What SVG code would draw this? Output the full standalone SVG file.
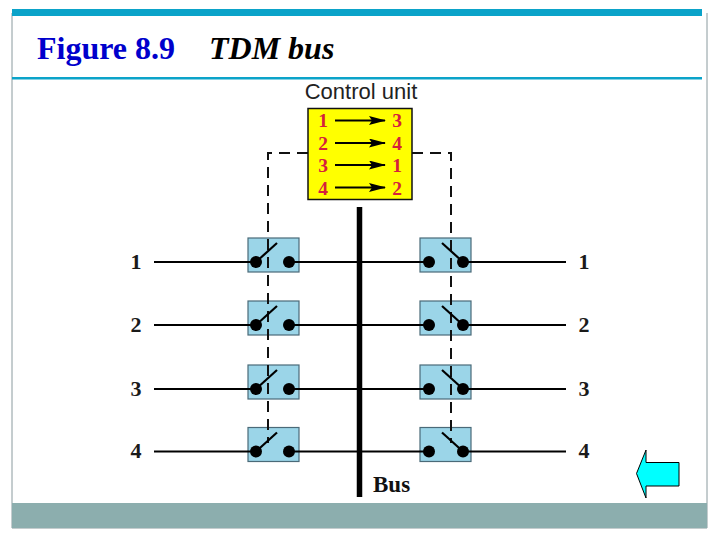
<svg xmlns="http://www.w3.org/2000/svg" width="720" height="540" viewBox="0 0 720 540">
<style>
.t{font-family:"Liberation Serif",serif;font-weight:bold}
.n{font-size:22px;fill:#1a1a1a;text-anchor:middle}
.r{font-size:19.500px;fill:#d4213d;text-anchor:middle}
.w{stroke:#000;stroke-width:2.2;fill:none}
.d{stroke:#111;stroke-width:2;stroke-dasharray:11 7;fill:none}
.s{fill:#9bd5e8;stroke:#4a6a78;stroke-width:1.2}
.a{stroke:#000;stroke-width:1.8;marker-end:url(#ah)}
</style>
<defs>
<marker id="ah" markerWidth="17" markerHeight="9" refX="16" refY="4.5" markerUnits="userSpaceOnUse" orient="auto"><path d="M0 0L17 4.5L0 9L3 4.5Z" fill="#000"/></marker>
<g id="swL"><circle cx="256" cy="0" r="6"/><circle cx="289" cy="0" r="6"/><path d="M256 0L277 -19" stroke="#000" stroke-width="2.2"/></g>
<g id="swR"><circle cx="429" cy="0" r="6"/><circle cx="463" cy="0" r="6"/><path d="M442 -19L463 0" stroke="#000" stroke-width="2.2"/></g>
<rect id="boxL" class="s" x="248" y="-24" width="51" height="34"/>
<rect id="boxR" class="s" x="420" y="-24" width="51" height="34"/>
</defs>
<g id="frame">
<path d="M12 13V528H707V13" fill="none" stroke="#8a9a9e" stroke-width="1"/>
<rect x="12" y="9" width="690" height="7" fill="#0ba3c9"/>
<rect x="12" y="77" width="690" height="2.500" fill="#0ba3c9"/>
<rect x="12" y="503" width="695" height="25" fill="#8caeae"/>
</g>
<g id="title">
<text class="t" x="37" y="59" font-size="32" fill="#0000cc">Figure 8.9</text>
<text class="t" x="209" y="59" font-size="32" font-style="italic" fill="#000">TDM bus</text>
</g>
<g id="switch-boxes">
<use href="#boxL" y="262"/><use href="#boxL" y="325"/><use href="#boxL" y="389"/><use href="#boxL" y="451.500"/>
<use href="#boxR" y="262"/><use href="#boxR" y="325"/><use href="#boxR" y="389"/><use href="#boxR" y="451.500"/>
</g>
<g id="connectors">
<path class="d" d="M308 153H268V443"/>
<path class="d" d="M412 153H451V443"/>
<path class="w" d="M154 262H256M289 262H429M463 262H566M154 325H256M289 325H429M463 325H566M154 389H256M289 389H429M463 389H566M154 451.500H256M289 451.500H429M463 451.500H566"/>
<path d="M359.500 207V497" stroke="#000" stroke-width="5.500"/>
</g>
<g id="switches">
<g id="sw-l1" transform="translate(0,262)"><use href="#swL"/></g>
<g id="sw-l2" transform="translate(0,325)"><use href="#swL"/></g>
<g id="sw-l3" transform="translate(0,389)"><use href="#swL"/></g>
<g id="sw-l4" transform="translate(0,451.500)"><use href="#swL"/></g>
<g id="sw-r1" transform="translate(0,262)"><use href="#swR"/></g>
<g id="sw-r2" transform="translate(0,325)"><use href="#swR"/></g>
<g id="sw-r3" transform="translate(0,389)"><use href="#swR"/></g>
<g id="sw-r4" transform="translate(0,451.500)"><use href="#swR"/></g>
</g>
<g id="control-unit">
<text x="361" y="99" font-family="'Liberation Sans',sans-serif" font-size="22" fill="#222" text-anchor="middle">Control unit</text>
<rect x="308" y="108.500" width="104" height="91" fill="#ffff00" stroke="#111" stroke-width="1.500"/>
<text class="t r" x="323" y="127">1</text><text class="t r" x="323" y="149.500">2</text><text class="t r" x="323" y="172">3</text><text class="t r" x="323" y="194.500">4</text>
<text class="t r" x="397" y="127">3</text><text class="t r" x="397" y="149.500">4</text><text class="t r" x="397" y="172">1</text><text class="t r" x="397" y="194.500">2</text>
<path class="a" d="M335 120.500H385"/><path class="a" d="M335 143H385"/><path class="a" d="M335 165H385"/><path class="a" d="M335 187.500H385"/>
</g>
<g id="labels">
<text class="t n" x="136" y="269">1</text><text class="t n" x="136" y="332">2</text><text class="t n" x="136" y="396">3</text><text class="t n" x="136" y="458">4</text>
<text class="t n" x="584" y="269">1</text><text class="t n" x="584" y="332">2</text><text class="t n" x="584" y="396">3</text><text class="t n" x="584" y="458">4</text>
<text class="t" x="373" y="492" font-size="23" fill="#111">Bus</text>
</g>
<g id="back-arrow">
<path d="M679 462.500V486H646V498L636.500 473.500L646 450V462.500Z" fill="#00ffff" stroke="#000" stroke-width="1"/>
</g>
</svg>
